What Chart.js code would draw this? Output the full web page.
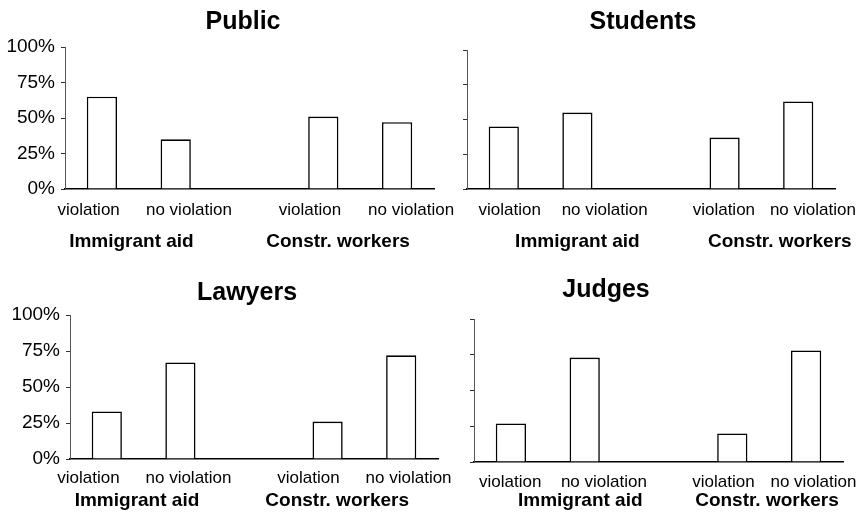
<!DOCTYPE html>
<html>
<head>
<meta charset="utf-8">
<script src="https://cdn.jsdelivr.net/npm/chart.js@4/dist/chart.umd.min.js"></script>
<style>
  html, body { margin:0; padding:0; background:#fff; }
  body { width:862px; height:516px; position:relative; overflow:hidden; }
  canvas { position:absolute; }
</style>
</head>
<body>
<canvas id="cPublic"   width="490" height="258" style="left:0;top:0"></canvas>
<canvas id="cStudents" width="440" height="258" style="left:440px;top:0"></canvas>
<canvas id="cLawyers"  width="498" height="258" style="left:0;top:258px"></canvas>
<canvas id="cJudges"   width="510" height="258" style="left:369px;top:258px"></canvas>
<script>
// datos
const categories = ['violation', 'no violation', '', 'violation', 'no violation'];
const groups     = ['Immigrant aid', 'Constr. workers'];
const yTicks     = [0, 25, 50, 75, 100];
const publicVals   = [65, 35, null, 51, 47];
const studentVals  = [45, 55, null, 37, 63];
const lawyerVals   = [33, 67, null, 26, 72];
const judgeVals    = [27, 73, null, 20, 78];

const catLabels = categories.filter(c => c);

Chart.defaults.font.family = "'Liberation Sans', Arial, sans-serif";
Chart.defaults.color = '#000';

// layout de cada panel (posicion de etiquetas en unidades de categoria)
const panels = [
  { id:'cPublic',   title:'Public',   vals:publicVals,  yLabels:true,
    pad:{left:0, right:4, top:0, bottom:5}, yw:65, rw:52, tpad:{top:7, bottom:10},
    lpad:13, lh:30, gpad:13, gh:34,
    labelAt:[-0.18, 1.18, 2.82, 4.19], groupAt:[0.4, 3.2] },
  { id:'cStudents', title:'Students', vals:studentVals, yLabels:false,
    pad:{left:11, right:45, top:0, bottom:5}, yw:16, rw:0, tpad:{top:7, bottom:13},
    lpad:13, lh:30, gpad:13, gh:34,
    labelAt:[0.08, 1.37, 2.99, 4.2], groupAt:[1.0, 3.75] },
  { id:'cLawyers',  title:'Lawyers',  vals:lawyerVals,  yLabels:true,
    pad:{left:0, right:4, top:0, bottom:4}, yw:70, rw:56, tpad:{top:20, bottom:7},
    lpad:11, lh:28, gpad:4, gh:25,
    labelAt:[-0.25, 1.11, 2.74, 4.1], groupAt:[0.41, 3.13] },
  { id:'cJudges',   title:'Judges',   vals:judgeVals,   yLabels:false,
    pad:{left:0, right:36, top:0, bottom:3}, yw:105, rw:0, tpad:{top:17, bottom:14},
    lpad:12, lh:29, gpad:0, gh:22,
    labelAt:[-0.01, 1.26, 2.88, 4.1], groupAt:[0.94, 3.47] }
];

panels.forEach(p => {
  const el = document.getElementById(p.id);
  new Chart(el.getContext('2d'), {
    type:'bar',
    data:{ labels: categories, datasets:[{ data: p.vals, backgroundColor:'#fff', borderColor:'#000', borderWidth:1.6,
      categoryPercentage:1, barPercentage:0.41 }]},
    options:{
      responsive:false, animation:false,
      layout:{ padding: p.pad },
      plugins:{
        legend:{ display:false }, tooltip:{ enabled:false },
        title:{ display:true, text:p.title, color:'#000', font:{ size:25, weight:'bold' }, padding:p.tpad }
      },
      scales:{
        x:{ weight:0, offset:true,
            grid:{ display:false, drawTicks:false },
            border:{ display:true, color:'#000', width:1.5 },
            ticks:{ display:false },
            afterFit: s => { s.height = 0; } },
        // etiquetas violation / no violation
        l:{ type:'linear', position:'bottom', weight:1, min:-0.5, max:4.5, offset:false,
            grid:{ display:false, drawTicks:false, offset:false }, border:{ display:false },
            afterBuildTicks: s => { s.ticks = p.labelAt.map(v => ({ value:v })); },
            ticks:{ font:{ size:17, lineHeight:1 }, padding:p.lpad, autoSkip:false, maxRotation:0,
                    callback:(v, i) => catLabels[i] },
            afterFit: s => { s.height = p.lh; } },
        // grupos
        g:{ type:'linear', position:'bottom', weight:2, min:-0.5, max:4.5, offset:false,
            grid:{ display:false, drawTicks:false, offset:false }, border:{ display:false },
            afterBuildTicks: s => { s.ticks = p.groupAt.map(v => ({ value:v })); },
            ticks:{ font:{ size:19, weight:'bold', lineHeight:1 }, padding:p.gpad, autoSkip:false, maxRotation:0,
                    callback:(v, i) => groups[i] },
            afterFit: s => { s.height = p.gh; } },
        y:{ min:0, max:100,
            afterBuildTicks: s => { s.ticks = yTicks.map(v => ({ value:v })); },
            grid:{ drawOnChartArea:false, drawTicks:true, tickLength:4, color:'#333', tickColor:'#333' },
            border:{ display:true, color:'#555', width:1, dash:[3,2] },
            ticks:{ display:p.yLabels, font:{ size:19 }, padding:6, callback: v => v + '%' },
            afterFit: s => { s.width = p.yw; } },
        // eje vacio a la derecha para centrar el titulo
        r:{ type:'linear', position:'right', display:p.rw > 0,
            grid:{ display:false, drawTicks:false }, border:{ display:false }, ticks:{ display:false },
            afterFit: s => { s.width = p.rw; } }
      }
    }
  });
});
</script>
</body>
</html>
